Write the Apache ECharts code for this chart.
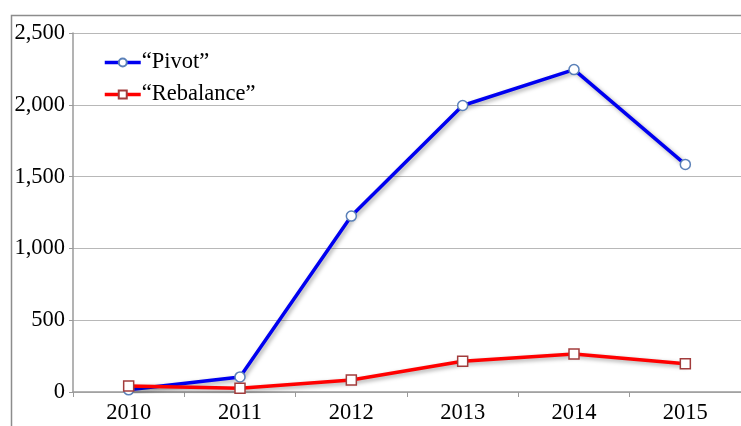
<!DOCTYPE html>
<html>
<head>
<meta charset="utf-8">
<script src="https://cdn.jsdelivr.net/npm/echarts@6/dist/echarts.min.js"></script>
<style>
html,body{margin:0;padding:0;background:#fff;}
#chart{width:741px;height:426px;}
</style>
</head>
<body>
<div id="chart"></div>
<script>
const years = ['2010','2011','2012','2013','2014','2015'];
const pivot = [15, 105, 1225, 1995, 2245, 1585];
const rebalance = [42, 26, 83, 214, 265, 197];
const seriesNames = ['\u201CPivot\u201D', '\u201CRebalance\u201D'];

const chart = echarts.init(document.getElementById('chart'));
const font = 'Liberation Serif';
chart.setOption({
  animation: false,
  backgroundColor: '#fff',
  graphic: [{
    type: 'rect', left: 9, top: 13,
    shape: {width: 800, height: 500},
    style: {fill: 'none', stroke: '#8c8c8c', lineWidth: 1.5},
    z: -1
  }],
  grid: {left: 73, top: 33, width: 669, height: 359, containLabel: false},
  legend: {
    orient: 'vertical', left: 98, top: 46,
    itemWidth: 36, itemHeight: 10, itemGap: 9,
    lineStyle: {width: 3.5, shadowBlur: 0, shadowOffsetX: 0, shadowOffsetY: 0},
    textStyle: {fontFamily: font, fontSize: 22.5, color: '#000', padding: [0,0,0,-4]},
    data: seriesNames
  },
  xAxis: {
    type: 'category', data: years, boundaryGap: true,
    axisLine: {lineStyle: {color: '#9a9a9a', width: 1.5}},
    axisTick: {show: true, inside: false, length: 5, lineStyle: {color: '#9a9a9a'}},
    axisLabel: {fontFamily: font, fontSize: 22.5, color: '#000', margin: 10}
  },
  yAxis: {
    type: 'value', min: 0, max: 2500, interval: 500,
    axisLine: {show: true, lineStyle: {color: '#9a9a9a', width: 1.5}},
    axisTick: {show: true, length: 4, lineStyle: {color: '#9a9a9a'}},
    splitLine: {lineStyle: {color: '#b8b8b8', width: 1.2}},
    axisLabel: {fontFamily: font, fontSize: 22.5, color: '#000', margin: 8,
      formatter: v => v.toLocaleString('en-US')}
  },
  series: [
    {
      name: seriesNames[0], type: 'line', data: pivot,
      symbol: 'circle', symbolSize: 10,
      lineStyle: {color: '#0000f0', width: 3.5, shadowColor: 'rgba(0,0,0,0.35)', shadowBlur: 4, shadowOffsetX: 2, shadowOffsetY: 2},
      itemStyle: {color: '#ffffff', borderColor: '#5a80b8', borderWidth: 1.5},
      z: 3
    },
    {
      name: seriesNames[1], type: 'line', data: rebalance,
      symbol: 'rect', symbolSize: 10,
      lineStyle: {color: '#ff0000', width: 3.5, shadowColor: 'rgba(0,0,0,0.35)', shadowBlur: 4, shadowOffsetX: 2, shadowOffsetY: 2},
      itemStyle: {color: '#ffffff', borderColor: '#a23c3c', borderWidth: 1.5},
      z: 4
    }
  ]
});
</script>
</body>
</html>
